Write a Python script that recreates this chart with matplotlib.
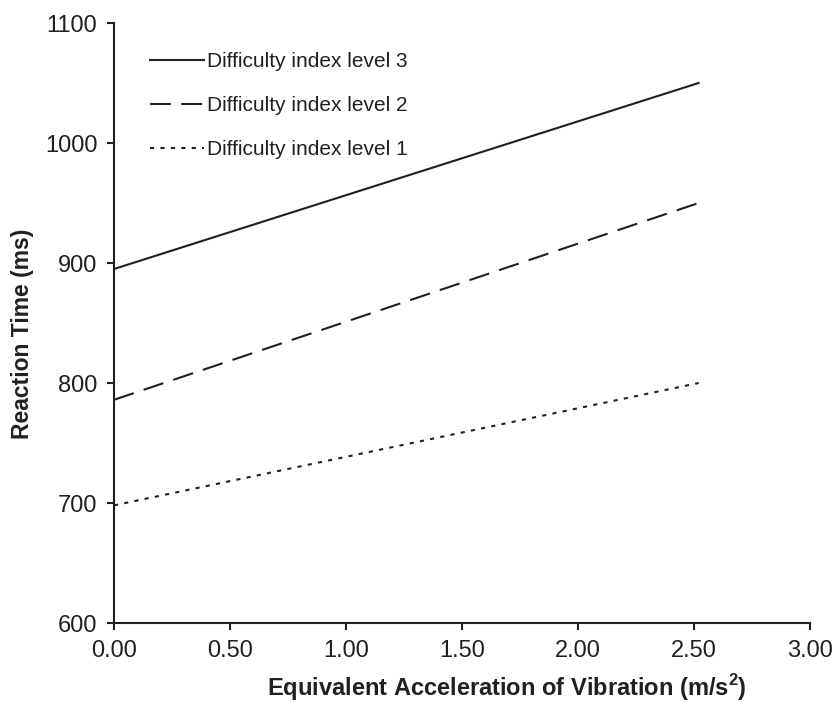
import numpy as np
import matplotlib as mpl
import matplotlib.pyplot as plt
from matplotlib.ticker import FormatStrFormatter

mpl.rcParams['font.family'] = ['Liberation Sans', 'DejaVu Sans']
INK = '#231f20'

# vibration (m/s^2) and reaction time (ms), end points of each fitted line
accel = [0.0, 2.52]
rt_level3 = [895, 1050]
rt_level2 = [786, 950]
rt_level1 = [698, 800]

labels = ['Difficulty index level 3',
          'Difficulty index level 2',
          'Difficulty index level 1']
xticks = [0.0, 0.5, 1.0, 1.5, 2.0, 2.5, 3.0]
yticks = [600, 700, 800, 900, 1000, 1100]

fig = plt.figure(figsize=(8.39, 7.02), dpi=100)
ax = fig.add_axes([114/839, 1 - 623/702, 696/839, 600/702])

ax.plot(accel, rt_level3, color=INK, lw=1.5, ls='-', label=labels[0])
ax.plot(accel, rt_level2, color=INK, lw=1.5, ls=(0, (10, 5)), label=labels[1])
ax.plot(accel, rt_level1, color=INK, lw=1.5, ls=(0, (2, 3)), label=labels[2])

ax.set_xlim(0, 3)
ax.set_ylim(600, 1100)
ax.set_xticks(xticks)
ax.set_yticks(yticks)
ax.xaxis.set_major_formatter(FormatStrFormatter('%.2f'))

for s in ['top', 'right']:
    ax.spines[s].set_visible(False)
for s in ['left', 'bottom']:
    ax.spines[s].set_color(INK)
    ax.spines[s].set_linewidth(1.5)
ax.tick_params(direction='out', length=5, width=1.5, color=INK,
               labelsize=17, labelcolor=INK, pad=7)

ax.set_xlabel('Equivalent Acceleration of Vibration (m/s$^\\mathregular{2}$)',
              fontsize=17, fontweight='bold', color=INK, va='center')
ax.xaxis.set_label_coords(0.565, -0.107)
ax.set_ylabel('Reaction Time (ms)', fontsize=16.5, fontweight='bold',
              color=INK, va='center')
ax.yaxis.set_label_coords(-0.131, 0.482)

ax.legend(loc='upper left', bbox_to_anchor=(0.052, 0.952), frameon=False,
          fontsize=15, handlelength=2.6, handletextpad=0.15,
          labelspacing=1.2, borderpad=0, borderaxespad=0,
          labelcolor=INK)

plt.savefig('out.png', dpi=100)
